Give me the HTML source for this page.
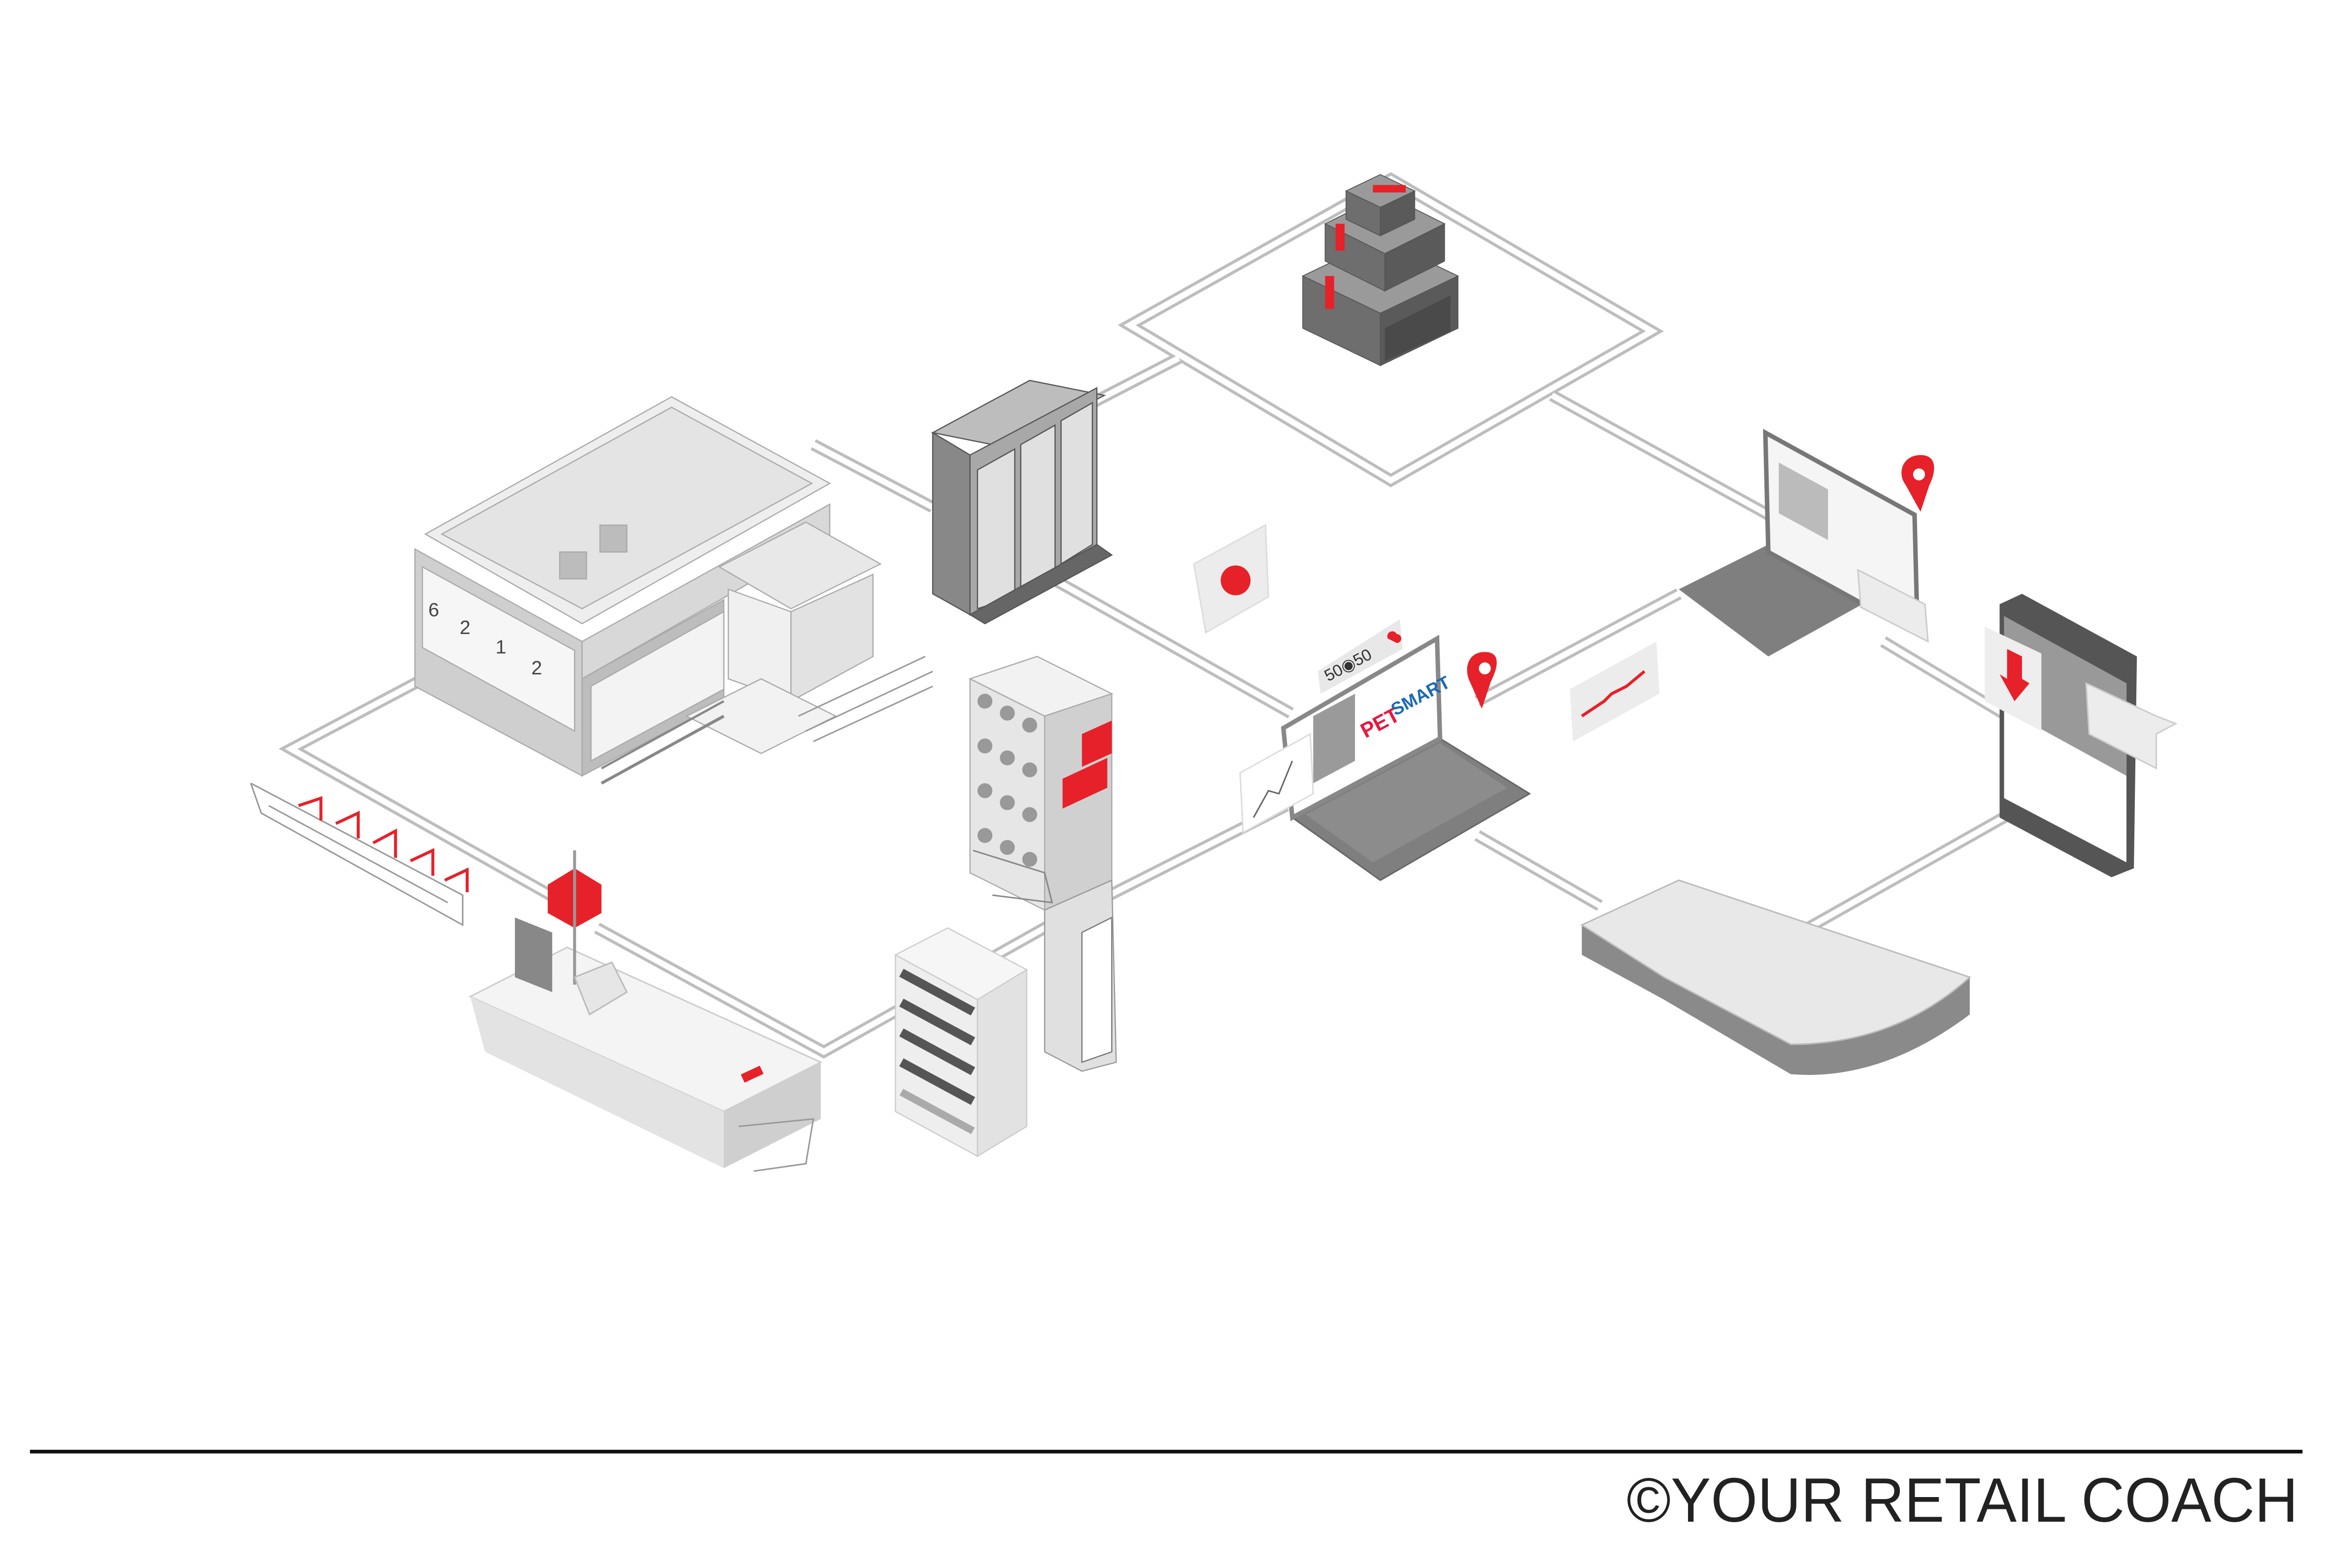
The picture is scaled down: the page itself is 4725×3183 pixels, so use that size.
<!DOCTYPE html>
<html><head><meta charset="utf-8"><style>
html,body{margin:0;padding:0;background:#fff;}
svg{display:block;}
</style></head><body>
<svg width="4725" height="3183" viewBox="0 0 1560 1051" xmlns="http://www.w3.org/2000/svg" font-family="Liberation Sans, sans-serif">
<rect width="1560" height="1051" fill="#fff"/>
<!-- roads -->
<g fill="none" stroke-linejoin="miter">
<g stroke="#bdbdbd" stroke-width="8">
<polyline points="280,457 195,502 390,612"/>
<polyline points="400,622 552,705 700,622 862,540"/>
<polyline points="545,298 625,340"/>
<polyline points="700,385 865,478"/>
<polyline points="732,270 790,240"/>
<polyline points="1040,265 1185,345"/>
<polyline points="990,470 1125,398"/>
<polyline points="1262,430 1342,478"/>
<polyline points="1348,545 1185,637"/>
<polyline points="990,560 1072,607"/>
<polygon points="757,218 932,120 1107,222 932,322"/>
</g>
<g stroke="#fff" stroke-width="4">
<polyline points="280,457 195,502 390,612"/>
<polyline points="400,622 552,705 700,622 862,540"/>
<polyline points="545,298 625,340"/>
<polyline points="700,385 865,478"/>
<polyline points="732,270 790,240"/>
<polyline points="1040,265 1185,345"/>
<polyline points="990,470 1125,398"/>
<polyline points="1262,430 1342,478"/>
<polyline points="1348,545 1185,637"/>
<polyline points="990,560 1072,607"/>
<polygon points="757,218 932,120 1107,222 932,322"/>
</g>
</g>

<!-- boxes -->
<g stroke="#555" stroke-width="0.6">
<polygon points="873,185 925,160 977,185 925,210" fill="#9a9a9a"/>
<polygon points="873,185 925,210 925,245 873,220" fill="#6e6e6e"/>
<polygon points="925,210 977,185 977,220 925,245" fill="#5a5a5a"/>
<polygon points="888,150 928,130 968,150 928,170" fill="#9a9a9a"/>
<polygon points="888,150 928,170 928,195 888,175" fill="#6e6e6e"/>
<polygon points="928,170 968,150 968,175 928,195" fill="#5a5a5a"/>
<polygon points="902,128 925,117 948,128 925,139" fill="#9a9a9a"/>
<polygon points="902,128 925,139 925,158 902,147" fill="#6e6e6e"/>
<polygon points="925,139 948,128 948,147 925,158" fill="#5a5a5a"/>
</g>
<rect x="895" y="150" width="6" height="18" fill="#e62129"/>
<rect x="888" y="185" width="6" height="22" fill="#e62129"/>
<rect x="920" y="124" width="22" height="5" fill="#e62129"/>
<polygon points="928,220 972,198 972,222 928,242" fill="#4a4a4a"/>

<!-- store -->
<g stroke="#aaa" stroke-width="0.8">
<polygon points="285,358 450,266 556,324 390,418" fill="#eeeeee"/>
<polygon points="296,358 450,273 544,324 390,408" fill="#e4e4e4"/>
<polygon points="278,368 390,430 390,520 278,460" fill="#cfcfcf"/>
<polygon points="283,380 385,436 385,490 283,434" fill="#f6f6f6"/>
<polygon points="390,430 556,338 556,360 390,455" fill="#d8d8d8"/>
<polygon points="390,455 485,402 485,470 390,520" fill="#bdbdbd"/>
<polygon points="396,460 485,410 485,462 396,510" fill="#f3f3f3"/>
<polygon points="482,380 540,350 590,378 530,408" fill="#e8e8e8"/>
<polygon points="488,395 530,410 530,470 488,455" fill="#f0f0f0"/>
<polygon points="530,410 585,385 585,440 530,470" fill="#e2e2e2"/>
<polygon points="460,480 510,505 560,480 510,455" fill="#f2f2f2"/>
<rect x="375" y="370" width="18" height="18" fill="#bcbcbc"/>
<rect x="402" y="352" width="18" height="18" fill="#bcbcbc"/>
</g>
<g fill="#444" font-size="13"><text x="287" y="413">6</text><text x="308" y="425">2</text><text x="332" y="438">1</text><text x="356" y="452">2</text></g>
<polyline points="403,525 485,480" stroke="#888" stroke-width="2" fill="none"/>
<polyline points="403,515 485,470" stroke="#888" stroke-width="1.5" fill="none"/>
<g stroke="#999" stroke-width="1" fill="none">
<polyline points="535,480 620,440"/><polyline points="540,490 625,450"/><polyline points="545,497 625,460"/>
</g>

<!-- freezers -->
<g stroke="#555" stroke-width="0.8">
<polygon points="625,290 690,255 740,265 675,300" fill="#bdbdbd"/>
<polygon points="625,290 650,305 650,412 625,398" fill="#888"/>
<polygon points="650,305 735,260 735,365 650,412" fill="#a8a8a8"/>
<polygon points="655,315 680,301 680,400 655,408" fill="#e0e0e0"/>
<polygon points="684,298 707,285 707,385 684,398" fill="#e0e0e0"/>
<polygon points="711,282 732,270 732,365 711,378" fill="#e0e0e0"/>
<polygon points="650,412 735,365 745,372 660,418" fill="#666"/>
</g>
<!-- chat bubble -->
<polygon points="800,378 848,352 850,400 808,424" fill="#ececec" stroke="#ddd"/>
<circle cx="828" cy="389" r="10" fill="#e62129"/>

<!-- laptop1 -->
<polygon points="866,548 965,495 1025,532 925,590" fill="#7f7f7f" stroke="#666"/>
<polygon points="875,546 965,498 1010,528 920,578" fill="#8c8c8c"/>
<polygon points="860,488 963,428 965,495 866,548" fill="#fff" stroke="#888" stroke-width="3"/>
<polygon points="880,480 908,465 908,510 880,525" fill="#9a9a9a"/>
<text x="915" y="495" font-size="14" font-weight="bold" fill="#e8173e" transform="rotate(-28 915 495)">PET</text>
<text x="935" y="480" font-size="12" font-weight="bold" fill="#1a6ab5" transform="rotate(-28 935 480)">SMART</text>
<polygon points="883,450 938,415 940,435 885,465" fill="#e8e8e8"/>
<text x="890" y="457" font-size="11" fill="#333" transform="rotate(-28 890 457)">50◉50</text>
<path d="M930 428 a3 3 0 0 1 6 -3 a3 3 0 0 1 0 6z" fill="#e62129"/>
<polygon points="831,518 878,492 880,532 833,558" fill="#fff" stroke="#ddd"/>
<polyline points="840,548 850,530 857,532 866,510" stroke="#666" fill="none"/>
<path d="M995 437 c-12 0 -14 12 -10 20 l8 18 l6 -18 c4 -8 8 -20 -4 -20z" fill="#e62129"/>
<circle cx="995" cy="448" r="4" fill="#fff"/>
<polygon points="1052,462 1110,430 1112,465 1054,497" fill="#ececec"/>
<polyline points="1060,480 1075,470 1080,465 1090,460 1102,450" stroke="#e62129" stroke-width="2" fill="none"/>

<!-- laptop2 -->
<polygon points="1125,395 1215,350 1275,390 1185,440" fill="#7f7f7f"/>
<polygon points="1183,290 1283,345 1285,425 1185,370" fill="#f5f5f5" stroke="#777" stroke-width="3"/>
<polygon points="1192,310 1225,328 1225,362 1192,344" fill="#bbb"/>
<polygon points="1245,382 1290,405 1292,430 1247,407" fill="#ececec" stroke="#ccc"/>
<path d="M1287 305 c-12 0 -16 12 -10 20 l10 18 l6 -18 c4 -8 6 -20 -6 -20z" fill="#e62129"/>
<circle cx="1286" cy="318" r="4" fill="#fff"/>

<!-- tablet -->
<polygon points="1340,405 1355,398 1432,440 1430,582 1415,588 1340,548" fill="#555"/>
<polygon points="1343,413 1425,458 1425,578 1343,535" fill="#fff"/>
<polygon points="1343,413 1425,458 1425,520 1343,475" fill="#999"/>
<polygon points="1330,420 1368,438 1368,490 1330,470" fill="#eee"/>
<polygon points="1345,435 1355,440 1355,455 1360,458 1350,470 1340,452 1345,455" fill="#e62129"/>
<polygon points="1398,458 1445,480 1458,485 1445,492 1445,515 1400,492" fill="#ececec" stroke="#ccc"/>

<!-- display case -->
<path d="M1060,620 L1125,590 L1320,655 L1320,680 Q1260,725 1200,720 L1115,670 L1060,640Z" fill="#8a8a8a"/>
<path d="M1060,620 L1125,590 L1320,655 Q1270,700 1200,700 L1115,655Z" fill="#e8e8e8" stroke="#bbb"/>

<!-- tall shelf -->
<g stroke="#aaa" stroke-width="0.8">
<polygon points="650,455 695,440 745,465 700,480" fill="#f2f2f2"/>
<polygon points="650,455 700,480 700,610 650,585" fill="#e6e6e6"/>
<polygon points="700,480 745,465 745,590 700,610" fill="#d0d0d0"/>
</g>
<g fill="#999">
<circle cx="660" cy="470" r="5"/><circle cx="675" cy="478" r="5"/><circle cx="690" cy="486" r="5"/>
<circle cx="660" cy="500" r="5"/><circle cx="675" cy="508" r="5"/><circle cx="690" cy="516" r="5"/>
<circle cx="660" cy="530" r="5"/><circle cx="675" cy="538" r="5"/><circle cx="690" cy="546" r="5"/>
<circle cx="660" cy="560" r="5"/><circle cx="675" cy="568" r="5"/><circle cx="690" cy="576" r="5"/>
</g>
<polygon points="725,492 745,483 745,505 725,514" fill="#e62129"/>
<polygon points="712,522 742,508 742,528 712,542" fill="#e62129"/>
<g stroke="#888" stroke-width="1" fill="none"><polyline points="652,570 700,585 705,605 665,600"/></g>
<g stroke="#999" stroke-width="0.8">
<polygon points="700,610 745,590 748,712 725,718 700,705" fill="#e0e0e0"/>
<polygon points="725,625 745,615 745,705 725,712" fill="#fff" stroke="#777"/>
</g>
<!-- low shelf -->
<g stroke="#ccc" stroke-width="0.8">
<polygon points="600,640 635,622 688,650 655,670" fill="#f6f6f6"/>
<polygon points="600,640 655,670 655,775 600,745" fill="#eeeeee"/>
<polygon points="655,670 688,650 688,755 655,775" fill="#e2e2e2"/>
</g>
<g stroke="#555" stroke-width="6">
<line x1="604" y1="652" x2="652" y2="678"/><line x1="604" y1="672" x2="652" y2="698"/>
<line x1="604" y1="692" x2="652" y2="718"/><line x1="604" y1="712" x2="652" y2="738"/>
</g>
<g stroke="#aaa" stroke-width="5">
<line x1="604" y1="732" x2="652" y2="758"/>
</g>

<!-- checkout -->
<polygon points="315,668 380,635 550,712 485,745" fill="#f4f4f4" stroke="#ccc"/>
<polygon points="315,668 485,745 485,783 325,705" fill="#e3e3e3"/>
<polygon points="485,745 550,712 550,750 485,783" fill="#cfcfcf"/>
<polygon points="367,593 385,582 403,593 403,612 385,622 367,612" fill="#e62129"/>
<line x1="385" y1="570" x2="385" y2="660" stroke="#999" stroke-width="2"/>
<polygon points="345,615 370,625 370,665 345,655" fill="#888"/>
<polygon points="385,655 410,645 420,665 395,680" fill="#e6e6e6" stroke="#bbb"/>
<rect x="497" y="717" width="14" height="6" fill="#e62129" transform="rotate(-25 504 720)"/>

<!-- trolleys -->
<g stroke="#999" stroke-width="1" fill="none">
<polyline points="168,525 310,600 310,620 175,545 168,525"/>
<polyline points="180,540 300,605"/>
<polyline points="495,755 545,750 540,780 505,785"/>
</g>
<g stroke="#e62129" stroke-width="2" fill="none">
<polyline points="200,540 215,535 215,550"/><polyline points="225,552 240,545 240,562"/><polyline points="250,565 265,557 265,575"/><polyline points="275,577 290,570 290,587"/><polyline points="298,590 313,583 313,598"/>
</g>

<!-- footer -->
<line x1="20" y1="973" x2="1543" y2="973" stroke="#111" stroke-width="2.5"/>
<text x="1540" y="1020" text-anchor="end" font-size="42" fill="#222" font-weight="300" textLength="450" lengthAdjust="spacingAndGlyphs">©YOUR RETAIL COACH</text>
</svg>
</body></html>
